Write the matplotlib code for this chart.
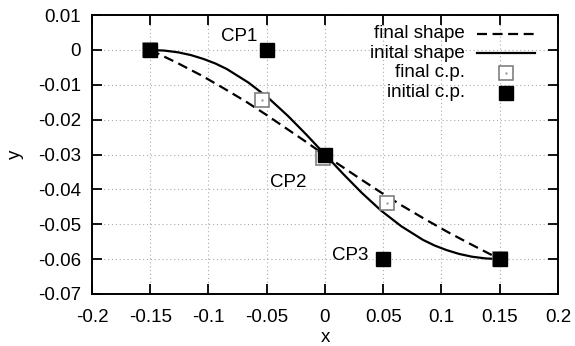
import matplotlib
matplotlib.use('Agg')
import matplotlib.pyplot as plt

plt.rcParams['font.family'] = ['Liberation Sans', 'DejaVu Sans']

# control points
init_cp_x = [-0.15, -0.05, 0.0, 0.05, 0.15]
init_cp_y = [0.0, 0.0, -0.03, -0.06, -0.06]
final_cp_x = [-0.15, -0.054, -0.0017, 0.053, 0.15]
final_cp_y = [0.0, -0.0145, -0.031, -0.0438, -0.06]

# shapes
init_x = [-0.15, -0.1378, -0.1261, -0.1150, -0.1043, -0.0941, -0.0842, -0.0656, -0.0482,
          -0.0316, -0.0157, 0.0, 0.0157, 0.0316, 0.0482, 0.0656, 0.0842, 0.0941, 0.1043,
          0.1150, 0.1261, 0.1378, 0.15]
init_y = [0.0, -0.0002, -0.0007, -0.0015, -0.0026, -0.0039, -0.0055, -0.0094, -0.0139,
          -0.0190, -0.0244, -0.03, -0.0356, -0.0410, -0.0461, -0.0506, -0.0545, -0.0561,
          -0.0574, -0.0585, -0.0593, -0.0598, -0.06]
final_x = [-0.15, -0.1270, -0.1057, -0.0860, -0.0675, -0.0500, -0.0333, -0.0170, -0.0009,
           0.0152, 0.0317, 0.0486, 0.0663, 0.0851, 0.1052, 0.1267, 0.15]
final_y = [0.0, -0.0037, -0.0074, -0.0112, -0.0149, -0.0187, -0.0225, -0.0262, -0.0300,
           -0.0336, -0.0373, -0.0410, -0.0447, -0.0484, -0.0522, -0.0560, -0.06]

labels = ['CP1', 'CP2', 'CP3']
label_x = [-0.0584, -0.0472, 0.0369]
label_y = [0.0037, -0.0379, -0.0591]
label_ha = ['right', 'left', 'right']

fs = 13.5

fig = plt.figure(figsize=(5.75, 3.46), dpi=100)
ax = fig.add_axes([0.16, 0.1503, 0.8104, 0.8063])

ax.plot(final_x, final_y, color='black', lw=1.6, dashes=(4.5, 2.5))
ax.plot(init_x, init_y, color='black', lw=1.6)
ax.plot(final_cp_x, final_cp_y, ls='none', marker='s', ms=10, mfc='white', mec='#808080', mew=1.2)
ax.plot(final_cp_x, final_cp_y, ls='none', marker='.', ms=1.5, color='#a0a0a0')
ax.plot(init_cp_x, init_cp_y, ls='none', marker='s', ms=10, color='black')

for t, lx, ly, ha in zip(labels, label_x, label_y, label_ha):
    ax.text(lx, ly, t, ha=ha, va='center', fontsize=fs)

ax.set_xlim(-0.2, 0.2)
ax.set_ylim(-0.07, 0.01)
ax.set_xticks([-0.2, -0.15, -0.1, -0.05, 0, 0.05, 0.1, 0.15, 0.2])
ax.set_xticklabels(['-0.2', '-0.15', '-0.1', '-0.05', '0', '0.05', '0.1', '0.15', '0.2'])
ax.set_yticks([-0.07, -0.06, -0.05, -0.04, -0.03, -0.02, -0.01, 0, 0.01])
ax.set_yticklabels(['-0.07', '-0.06', '-0.05', '-0.04', '-0.03', '-0.02', '-0.01', '0', '0.01'])
ax.tick_params(direction='in', length=7, width=1.3, top=True, right=True, labelsize=fs)
ax.tick_params(axis='x', pad=11)
ax.tick_params(axis='y', pad=8)
ax.grid(True, ls=(0, (1, 2.5)), color='#aaaaaa', lw=0.8)
for s in ax.spines.values():
    s.set_linewidth(1.4)
ax.set_xlabel('x', fontsize=fs, labelpad=2)
ax.set_ylabel('y', fontsize=fs, labelpad=10)

# gnuplot style key: text right-aligned, sample to the right
key_text = ['final shape', 'inital shape', 'final c.p.', 'initial c.p.']
key_y = [0.932, 0.863, 0.793, 0.7215]
for t, ky in zip(key_text, key_y):
    ax.text(0.8004, ky, t, transform=ax.transAxes, ha='right', va='center', fontsize=fs)
ax.plot([0.826, 0.9506], [key_y[0]] * 2, transform=ax.transAxes, color='black', lw=1.6, dashes=(4.5, 2.5))
ax.plot([0.826, 0.9506], [key_y[1]] * 2, transform=ax.transAxes, color='black', lw=1.6)
ax.plot([0.888], [key_y[2]], transform=ax.transAxes, marker='s', ms=10, mfc='white', mec='#808080', mew=1.2)
ax.plot([0.888], [key_y[2]], transform=ax.transAxes, marker='.', ms=1.5, color='#a0a0a0')
ax.plot([0.888], [key_y[3]], transform=ax.transAxes, marker='s', ms=10, color='black')

plt.savefig('out.png', dpi=100)
